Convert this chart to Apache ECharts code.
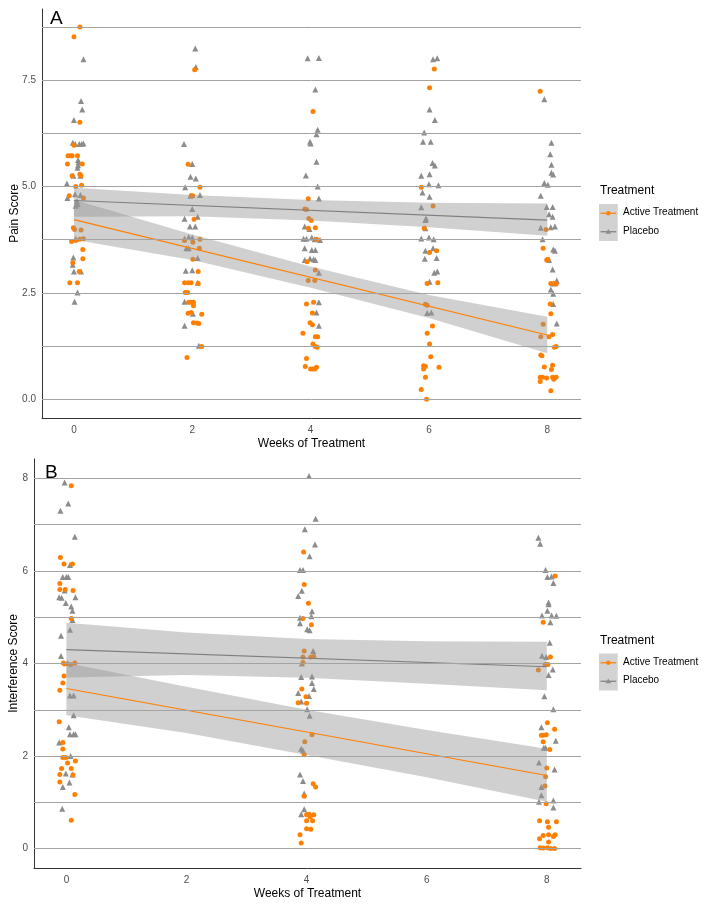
<!DOCTYPE html>
<html><head><meta charset="utf-8">
<script src="https://cdn.jsdelivr.net/npm/echarts@6/dist/echarts.min.js"></script>
<style>html,body{margin:0;padding:0;background:#fff}#c{width:708px;height:904px}</style>
</head><body><div id="c"></div>
<script>
// ---------- DATA ----------
const weekTicks = [0, 2, 4, 6, 8];
const painTicks = [0, 2.5, 5, 7.5];
const painGrid = [0, 1.25, 2.5, 3.75, 5, 6.25, 7.5, 8.75];
const interfTicks = [0, 2, 4, 6, 8];
const interfGrid = [0, 1, 2, 3, 4, 5, 6, 7, 8];

// Panel A – Pain Score, jittered [week, score]
const painActive = [
[0.10,8.75],[0.00,8.52],[0.10,6.51],[0.00,5.97],[-0.10,5.72],[-0.06,5.72],[-0.03,5.72],[0.06,5.72],[-0.11,5.53],[0.14,5.53],[0.10,5.29],[-0.03,5.25],[0.12,5.25],[0.03,5.00],[0.13,5.03],[-0.08,4.78],[0.16,4.73],[-0.01,4.03],[0.01,3.99],[0.12,3.98],[-0.04,3.71],[0.03,3.73],[0.10,3.76],[0.16,3.77],[0.15,3.52],[0.15,3.30],[-0.02,3.21],[0.09,3.00],[-0.07,2.74],[0.06,2.74],
[2.04,7.74],[1.93,5.52],[2.13,4.98],[1.98,4.78],[2.01,4.78],[2.03,4.23],[2.13,3.76],[1.87,3.73],[2.01,3.69],[2.12,3.55],[2.01,3.29],[2.10,3.00],[1.87,2.74],[1.93,2.74],[1.98,2.74],[2.10,2.72],[1.88,2.51],[1.92,2.51],[1.94,2.28],[1.97,2.28],[2.02,2.28],[2.02,2.20],[1.93,2.02],[1.98,2.04],[2.16,2.00],[2.02,1.80],[2.08,1.79],[2.11,1.78],[2.16,1.24],[1.91,0.98],
[4.04,6.76],[3.96,4.71],[3.90,4.47],[3.93,4.46],[3.97,4.25],[4.01,4.20],[4.08,4.03],[3.96,4.02],[4.10,3.76],[3.94,3.23],[4.08,3.04],[3.96,2.79],[4.07,2.79],[3.93,2.24],[4.05,2.28],[4.03,2.03],[3.99,1.80],[4.03,1.75],[3.87,1.55],[4.08,1.47],[4.12,1.47],[4.04,1.30],[4.08,1.24],[4.11,1.22],[3.93,0.96],[3.91,0.77],[4.00,0.71],[4.04,0.71],[4.07,0.71],[4.10,0.75],
[6.09,7.76],[6.01,7.32],[5.87,4.98],[6.07,4.54],[5.92,4.02],[6.13,3.49],[6.01,3.45],[5.97,2.72],[6.15,2.74],[5.94,2.23],[5.97,2.21],[6.06,1.72],[5.97,1.55],[6.01,1.30],[6.03,1.00],[5.91,0.79],[5.94,0.77],[5.91,0.71],[6.17,0.75],[5.94,0.52],[5.87,0.23],[5.96,0.00],
[7.88,7.24],[7.98,3.99],[7.93,3.55],[7.99,3.27],[8.01,3.29],[8.06,2.72],[8.15,2.71],[8.12,2.72],[8.05,2.24],[8.06,2.01],[7.93,1.76],[7.89,1.47],[8.03,1.47],[8.09,1.52],[8.12,1.22],[8.15,1.24],[7.89,1.04],[7.91,1.02],[7.95,0.76],[8.09,0.80],[8.07,0.70],[7.88,0.52],[7.92,0.52],[7.99,0.50],[8.09,0.52],[8.15,0.52],[7.88,0.42],[8.11,0.47],[8.06,0.20]
];
const painPlacebo = [
[0.16,7.99],[0.12,7.01],[0.14,6.81],[0.00,6.56],[-0.02,6.03],[0.02,6.00],[0.09,6.00],[0.13,6.00],[0.16,6.01],[0.07,5.62],[0.08,5.57],[0.07,5.50],[0.06,5.44],[-0.01,5.25],[0.11,5.25],[-0.12,5.07],[-0.11,4.73],[0.02,4.82],[0.11,4.80],[0.05,4.65],[0.03,4.55],[0.06,4.59],[0.03,3.77],[-0.01,3.33],[-0.02,3.16],[0.00,3.00],[0.12,3.00],[0.06,2.51],[0.01,2.29],
[2.05,8.24],[2.06,7.81],[1.86,6.00],[2.00,5.53],[1.97,5.23],[2.06,5.19],[1.88,4.98],[1.97,4.78],[2.13,4.80],[2.00,4.47],[2.09,4.29],[1.87,4.24],[1.96,4.06],[2.05,4.06],[1.87,3.78],[1.94,3.81],[2.00,3.80],[1.90,3.55],[1.94,3.55],[2.09,3.32],[1.89,3.02],[2.00,3.03],[2.09,2.74],[1.87,2.29],[2.01,2.01],[1.87,1.73],[2.11,1.26],
[3.95,8.01],[4.14,8.02],[4.08,7.28],[4.12,6.33],[4.10,6.23],[4.00,6.01],[3.99,6.05],[4.10,5.58],[3.92,5.26],[4.12,5.00],[4.14,4.72],[3.90,4.06],[3.98,4.00],[3.88,3.77],[3.93,3.77],[4.02,3.80],[4.07,3.76],[4.16,3.74],[3.90,3.55],[4.02,3.51],[4.08,3.51],[3.90,3.27],[3.99,3.31],[4.05,3.29],[4.08,3.27],[4.14,2.97],[4.14,2.28],[4.10,2.04],[4.14,1.73],
[6.07,7.99],[6.14,8.01],[6.01,6.81],[6.10,6.56],[5.92,6.27],[5.90,6.05],[6.03,6.05],[6.06,5.55],[6.10,5.49],[5.87,5.25],[6.01,5.29],[6.00,5.05],[6.16,5.03],[5.89,4.86],[6.01,4.76],[5.87,4.51],[5.95,4.25],[5.94,4.21],[5.94,4.02],[5.87,3.78],[6.00,3.80],[6.08,3.76],[6.07,3.55],[5.94,3.49],[5.93,3.30],[6.13,3.32],[6.09,2.97],[6.14,3.00],[6.01,2.76],[5.97,2.03],[6.04,2.04],
[7.95,7.05],[8.07,6.03],[8.05,5.76],[8.07,5.51],[8.07,5.32],[8.10,5.28],[7.95,5.08],[8.01,5.04],[7.89,4.78],[7.99,4.52],[8.09,4.52],[8.03,4.35],[8.09,4.29],[7.89,4.03],[8.06,4.04],[8.13,4.06],[7.92,3.76],[8.10,3.52],[8.13,3.49],[8.03,3.27],[8.09,3.05],[8.16,2.79],[8.10,2.72],[8.06,2.58],[8.10,2.48],[8.10,2.24],[8.16,1.78]
];
// fitted lines [week, score]
const painActiveFit = [[0,4.22],[8,1.51]];
const painPlaceboFit = [[0,4.67],[8,4.21]];
// confidence bands [week, lower, upper]
const painActiveBand = [[0,3.75,4.69],[2,3.27,3.87],[4,2.62,3.12],[6,1.91,2.45],[8,1.08,1.94]];
const painPlaceboBand = [[0,4.29,4.97],[2,4.30,4.80],[4,4.20,4.68],[6,4.04,4.62],[8,3.84,4.60]];

// Panel B – Interference Score
const interfActive = [
[0.08,7.84],[-0.10,6.29],[-0.04,6.15],[0.10,6.15],[-0.11,5.73],[-0.11,5.60],[-0.02,5.60],[0.11,5.58],[0.08,4.97],[-0.05,4.01],[-0.03,3.99],[0.07,3.98],[0.14,4.01],[-0.04,3.73],[-0.06,3.58],[-0.11,3.42],[-0.12,2.74],[-0.06,2.29],[-0.06,2.15],[-0.06,1.97],[-0.01,1.97],[0.02,1.85],[0.15,1.89],[-0.08,1.73],[0.08,1.73],[-0.11,1.60],[0.11,1.59],[-0.11,1.44],[0.14,1.17],[0.08,0.61],
[3.95,6.41],[3.96,5.71],[4.03,5.30],[3.94,4.97],[4.08,4.84],[3.96,4.27],[3.94,4.14],[4.07,4.14],[4.12,4.15],[3.94,4.02],[3.92,3.45],[3.99,3.28],[3.86,3.15],[4.00,3.14],[4.09,2.46],[3.97,2.31],[3.96,2.03],[4.11,1.40],[4.15,1.33],[3.96,1.13],[4.00,0.73],[4.04,0.74],[4.06,0.68],[4.12,0.73],[4.00,0.60],[4.10,0.60],[4.00,0.43],[4.07,0.42],[3.89,0.30],[3.91,0.12],
[8.14,5.89],[7.94,4.89],[8.06,4.14],[7.97,3.98],[8.02,3.98],[7.86,3.86],[8.01,2.72],[8.13,2.58],[7.91,2.45],[7.94,2.45],[7.99,2.46],[7.94,2.31],[8.05,2.14],[8.00,1.74],[7.98,1.55],[7.97,1.35],[7.99,0.97],[7.88,0.60],[8.01,0.58],[8.16,0.58],[8.03,0.46],[7.88,0.21],[7.94,0.28],[8.03,0.30],[8.11,0.26],[8.14,0.30],[8.03,0.14],[7.89,0.02],[7.94,0.01],[8.01,0.02],[8.06,0.00],[8.13,0.00]
];
const interfPlacebo = [
[-0.03,7.91],[0.03,7.46],[-0.10,7.30],[0.14,6.74],[0.06,6.13],[-0.06,5.87],[0.00,5.87],[0.03,5.87],[-0.03,5.58],[-0.12,5.43],[-0.08,5.42],[0.15,5.43],[-0.01,5.31],[0.08,5.23],[0.10,5.14],[0.10,4.94],[0.06,4.73],[-0.09,4.60],[-0.09,4.16],[0.02,4.01],[0.06,3.31],[0.12,3.31],[0.12,2.88],[0.04,2.62],[-0.12,2.29],[0.06,2.47],[0.12,2.47],[0.15,2.47],[0.07,2.00],[-0.01,1.62],[0.10,1.60],[0.05,1.43],[-0.06,1.33],[-0.07,0.86],
[4.04,8.05],[4.15,7.13],[3.97,6.90],[4.14,6.57],[4.05,6.32],[3.89,6.02],[3.94,6.02],[3.92,5.57],[3.86,5.46],[4.09,5.13],[4.08,5.02],[3.89,4.99],[3.89,4.87],[4.01,4.74],[4.05,4.72],[4.11,4.27],[3.92,4.00],[3.91,3.71],[4.09,3.72],[4.09,3.58],[4.12,3.45],[3.86,3.36],[3.91,3.18],[4.04,3.30],[4.01,3.01],[4.05,2.87],[3.91,2.16],[3.94,2.12],[3.89,1.60],[3.94,1.46],[3.96,1.19],[3.96,0.85],[3.91,0.74],
[7.86,6.72],[7.89,6.59],[7.98,6.02],[8.01,5.87],[8.08,5.88],[8.11,5.74],[8.03,5.32],[8.03,5.28],[8.01,5.14],[7.92,5.04],[8.08,5.04],[8.16,5.03],[8.06,4.89],[8.05,4.45],[7.92,4.17],[7.99,4.14],[8.10,3.87],[8.03,3.75],[7.96,3.29],[8.11,3.01],[7.91,2.62],[8.15,2.33],[7.95,2.18],[7.98,2.18],[7.87,1.86],[8.13,1.71],[7.91,1.33],[7.91,1.15],[7.87,1.01],[8.11,1.04],[8.11,0.89]
];
const interfActiveFit = [[0,3.46],[8,1.58]];
const interfPlaceboFit = [[0,4.30],[8,3.93]];
const interfActiveBand = [[0,2.88,4.01],[2,2.50,3.50],[4,2.02,3.00],[6,1.54,2.56],[8,1.01,2.16]];
const interfPlaceboBand = [[0,3.70,4.88],[2,3.75,4.67],[4,3.69,4.53],[6,3.56,4.48],[8,3.42,4.47]];

// ---------- STYLE ----------
const ORANGE = '#ff7f00', GRAY = '#8c8c8c', LINEGRAY = '#7f7f7f';
const FONT = '"Liberation Sans", Arial, sans-serif';
const BANDFILL = 'rgba(150,150,150,0.45)';

function xAxisDef(gi) {
  return {
    type: 'value', gridIndex: gi, min: -0.54, max: 8.57,
    axisLine: { show: true, onZero: false, lineStyle: { color: '#333', width: 1 } },
    axisTick: { show: false }, splitLine: { show: false },
    axisLabel: { customValues: weekTicks, fontSize: 10, color: '#4d4d4d', margin: 7, fontFamily: FONT },
    name: 'Weeks of Treatment', nameLocation: 'middle', nameGap: 20, nameMoveOverlap: false,
    nameTextStyle: { fontSize: 12, color: '#000', fontFamily: FONT }
  };
}
function yAxisDef(gi, min, max, ticks, name, fmt, gap) {
  return {
    type: 'value', gridIndex: gi, min: min, max: max,
    axisLine: { show: true, onZero: false, lineStyle: { color: '#333', width: 1 } },
    axisTick: { show: false }, splitLine: { show: false },
    axisLabel: { customValues: ticks, fontSize: 10, color: '#4d4d4d', margin: 6, fontFamily: FONT, formatter: fmt },
    name: name, nameLocation: 'middle', nameGap: gap, nameRotate: 90, nameMoveOverlap: false,
    nameTextStyle: { fontSize: 12, color: '#000', fontFamily: FONT }
  };
}
function gridSeries(gi, vals) {
  return {
    type: 'scatter', xAxisIndex: gi, yAxisIndex: gi, data: [], z: 1, silent: true,
    markLine: { silent: true, symbol: 'none', animation: false, label: { show: false },
      lineStyle: { color: '#a3a3a3', width: 1, type: 'solid' },
      data: vals.map(v => ({ yAxis: v })) }
  };
}
function scatterSeries(gi, data, color, symbol, size) {
  return { type: 'scatter', xAxisIndex: gi, yAxisIndex: gi, data: data, symbol: symbol,
    symbolSize: size, itemStyle: { color: color, opacity: 1 }, z: 2, silent: true };
}
function bandSeries(gi, band) {
  return {
    type: 'custom', xAxisIndex: gi, yAxisIndex: gi, data: band, z: 3, silent: true,
    encode: { x: 0, y: [1, 2] },
    renderItem: function (params, api) {
      if (params.dataIndex !== 0) return null;
      const up = band.map(d => api.coord([d[0], d[2]]));
      const lo = band.map(d => api.coord([d[0], d[1]])).reverse();
      return { type: 'polygon', shape: { points: up.concat(lo) }, style: { fill: BANDFILL } };
    }
  };
}
function fitSeries(gi, data, color) {
  return { type: 'line', xAxisIndex: gi, yAxisIndex: gi, data: data, showSymbol: false,
    lineStyle: { color: color, width: 1.2 }, z: 4, silent: true };
}
function legendGraphics(top) {
  const bx = 599, by = top + 11, kh = 18.5;
  const cx = bx + 9.3;
  return [
    { type: 'text', left: 600, top: top - 8, style: { text: 'Treatment', fontSize: 12, fill: '#000', fontFamily: FONT } },
    { type: 'rect', shape: { x: bx, y: by, width: 18.7, height: 2 * kh }, style: { fill: '#d2d2d2' } },
    { type: 'line', shape: { x1: bx + 1.5, y1: by + kh / 2, x2: bx + 17.2, y2: by + kh / 2 }, style: { stroke: ORANGE, lineWidth: 1.2 } },
    { type: 'circle', shape: { cx: cx, cy: by + kh / 2, r: 2.2 }, style: { fill: ORANGE } },
    { type: 'line', shape: { x1: bx + 1.5, y1: by + kh * 1.5, x2: bx + 17.2, y2: by + kh * 1.5 }, style: { stroke: LINEGRAY, lineWidth: 1.2 } },
    { type: 'polygon', shape: { points: [[cx, by + kh * 1.5 - 2.8], [cx - 2.8, by + kh * 1.5 + 2], [cx + 2.8, by + kh * 1.5 + 2]] }, style: { fill: GRAY } },
    { type: 'text', left: 623, top: by + kh / 2 - 6, style: { text: 'Active Treatment', fontSize: 10, fill: '#000', fontFamily: FONT } },
    { type: 'text', left: 623, top: by + kh * 1.5 - 6, style: { text: 'Placebo', fontSize: 10, fill: '#000', fontFamily: FONT } }
  ];
}

const chart = echarts.init(document.getElementById('c'), null, { renderer: 'canvas' });
chart.setOption({
  animation: false,
  backgroundColor: '#fff',
  textStyle: { fontFamily: FONT },
  grid: [
    { left: 42, right: 127, top: 9, height: 409, outerBoundsMode: 'none', containLabel: false },
    { left: 34, right: 127, top: 459, height: 409, outerBoundsMode: 'none', containLabel: false }
  ],
  xAxis: [xAxisDef(0), xAxisDef(1)],
  yAxis: [
    yAxisDef(0, -0.44, 9.17, painTicks, 'Pain Score', v => v.toFixed(1), 21),
    yAxisDef(1, -0.42, 8.42, interfTicks, 'Interference Score', v => String(v), 14)
  ],
  series: [
    gridSeries(0, painGrid),
    gridSeries(1, interfGrid),
    scatterSeries(0, painPlacebo, GRAY, 'triangle', 6),
    scatterSeries(0, painActive, ORANGE, 'circle', 5),
    scatterSeries(1, interfPlacebo, GRAY, 'triangle', 6),
    scatterSeries(1, interfActive, ORANGE, 'circle', 5),
    bandSeries(0, painActiveBand),
    bandSeries(0, painPlaceboBand),
    bandSeries(1, interfActiveBand),
    bandSeries(1, interfPlaceboBand),
    fitSeries(0, painActiveFit, ORANGE),
    fitSeries(0, painPlaceboFit, LINEGRAY),
    fitSeries(1, interfActiveFit, ORANGE),
    fitSeries(1, interfPlaceboFit, LINEGRAY)
  ],
  graphic: [
    { type: 'text', left: 50, top: 9, style: { text: 'A', fontSize: 19, fill: '#000', fontFamily: FONT } },
    { type: 'text', left: 45, top: 463, style: { text: 'B', fontSize: 19, fill: '#000', fontFamily: FONT } }
  ].concat(legendGraphics(193), legendGraphics(642.5))
});
</script></body></html>
